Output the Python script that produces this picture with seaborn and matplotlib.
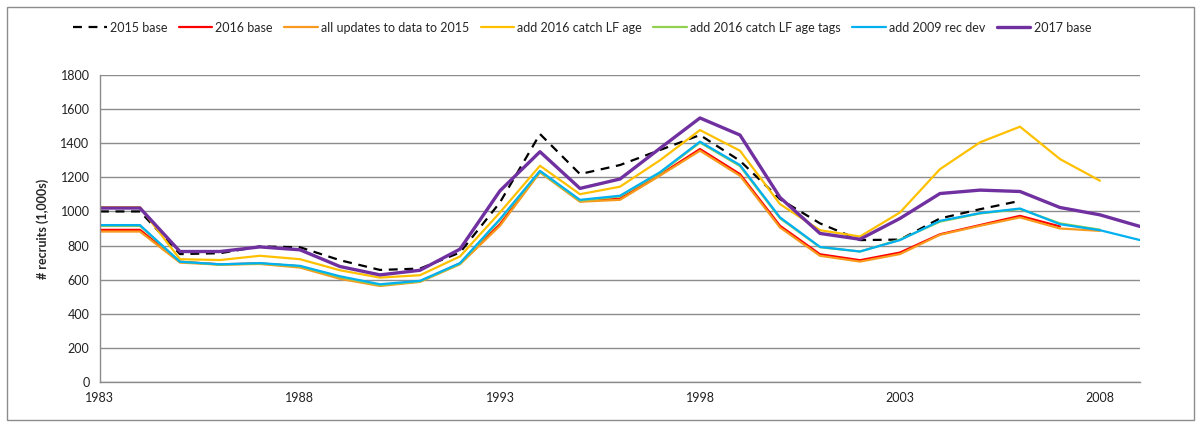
import matplotlib
matplotlib.use("Agg")
import matplotlib.pyplot as plt
import numpy as np
import pandas as pd
import seaborn as sns
from matplotlib.patches import Rectangle

years = list(range(1983, 2010))

base_2015 = [1000, 1000, 750, 755, 795, 790, 714, 657, 665, 759, 1053, 1454, 1219,
             1272, 1360, 1448, 1297, 1072, 930, 832, 835, 959, 1013, 1062]
base_2016 = [892, 892, 705, 690, 695, 678, 612, 568, 590, 695, 925, 1235, 1060,
             1075, 1215, 1366, 1219, 916, 749, 714, 759, 866, 920, 974, 912]
all_updates = [882, 882, 700, 688, 692, 671, 605, 563, 587, 690, 916, 1229, 1057,
               1068, 1210, 1356, 1209, 906, 740, 706, 750, 863, 916, 965, 900, 886]
catch_lf_age = [1025, 1025, 720, 715, 740, 720, 655, 612, 626, 736, 994, 1268, 1101,
                1145, 1300, 1477, 1356, 1043, 890, 853, 994, 1248, 1405, 1497, 1307, 1180]
catch_lf_age_tags = [915, 915, 705, 688, 695, 678, 615, 568, 590, 693, 950, 1233, 1063,
                     1088, 1225, 1404, 1266, 960, 790, 765, 835, 940, 988, 1014, 930, 893]
rec_dev_2009 = [920, 920, 705, 690, 697, 681, 620, 573, 593, 697, 955, 1238, 1068,
                1092, 1230, 1409, 1272, 965, 792, 765, 832, 945, 990, 1017, 925, 890, 832]
base_2017 = [1020, 1020, 765, 765, 792, 775, 677, 628, 655, 779, 1121, 1350, 1135,
             1190, 1370, 1548, 1448, 1082, 871, 837, 959, 1105, 1125, 1117, 1023, 980, 912]

series = [
    ("2015 base", base_2015, "black", 1.6, (0, (4, 3))),
    ("2016 base", base_2016, "#FF0000", 1.6, "-"),
    ("all updates to data to 2015", all_updates, "#F79A1E", 1.6, "-"),
    ("add 2016 catch LF age", catch_lf_age, "#FFC000", 1.6, "-"),
    ("add 2016 catch LF age tags", catch_lf_age_tags, "#92D050", 1.6, "-"),
    ("add 2009 rec dev", rec_dev_2009, "#00B0F0", 1.6, "-"),
    ("2017 base", base_2017, "#7030A0", 2.4, "-"),
]

sns.set_style("white")
plt.rcParams['font.family'] = ['Lato', 'DejaVu Sans']

fig = plt.figure(figsize=(12, 4.22), dpi=100)
ax = fig.add_axes([0.0833, 0.0948, 0.8667, 0.7275])

for name, vals, color, lw, ls in series:
    df = pd.DataFrame({"year": years[:len(vals)], "recruits": vals})
    sns.lineplot(data=df, x="year", y="recruits", ax=ax, color=color,
                 linewidth=lw, linestyle=ls, label=name)

ax.set_xlim(1983, 2009)
ax.set_ylim(0, 1800)
ax.set_xticks(range(1983, 2009, 5))
ax.set_yticks(range(0, 1801, 200))
ax.yaxis.grid(True, color="#8C8C8C", linewidth=1)
ax.xaxis.grid(False)
for s in ["top", "right"]:
    ax.spines[s].set_visible(False)
for s in ["left", "bottom"]:
    ax.spines[s].set_color("#8C8C8C")
    ax.spines[s].set_linewidth(1)
ax.tick_params(axis="both", direction="out", length=4, color="#8C8C8C",
               labelsize=9, labelcolor="#222222", width=1)
ax.set_xlabel("")
ax.set_ylabel("# recruits (1,000s)", fontsize=9, fontweight="bold", labelpad=8)

handles, labels = ax.get_legend_handles_labels()
ax.get_legend().remove()
fig.legend(handles, labels, loc="upper center", ncol=7, frameon=False,
           bbox_to_anchor=(0.485, 0.975), fontsize=9, handlelength=2.7,
           columnspacing=0.9, handletextpad=0.25)

fig.patches.append(Rectangle((0.006, 0.005), 0.989, 0.978, transform=fig.transFigure,
                             fill=False, edgecolor="#8C8C8C", linewidth=1))

fig.savefig("out.png", dpi=100)
